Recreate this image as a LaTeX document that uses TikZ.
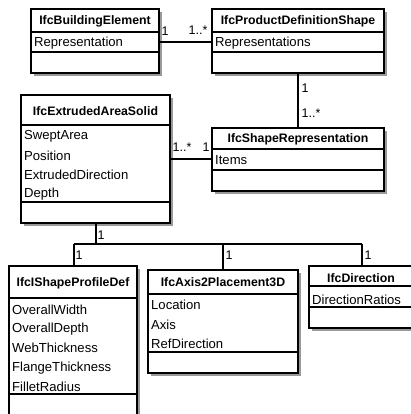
\documentclass[tikz,border=0pt]{standalone}
\usepackage{fontspec}
\setmainfont{Liberation Sans}
\usetikzlibrary{fit}
\tikzset{
  umlbox/.style={draw, line width=1.1pt, inner sep=0pt, outer sep=0pt, fill=white},
  sep/.style={line width=1.1pt},
  conn/.style={line width=1.1pt},
  ttl/.style={font=\bfseries\fontsize{12.3}{13}\selectfont, inner sep=0pt, anchor=center},
  attr/.style={font=\fontsize{13.1}{14}\selectfont, inner sep=0pt, anchor=west},
  mult/.style={font=\fontsize{12.5}{13}\selectfont, inner sep=0pt, anchor=center},
  shadowc/.style={fill=black!40}
}
\newcommand{\umlclass}[8]{%
  \fill[shadowc] (#2+3,#3+3) rectangle (#4+3,#5+3);
  \node[umlbox, fit={(#2,#3)(#4,#5)}] (#1) {};
  \draw[sep] (#2,#6) -- (#4,#6);
  \draw[sep] (#2,#7) -- (#4,#7);
  \node[ttl] (#1-t) at ({(#2+#4)/2},#8) {\phantom{X}};
}
\begin{document}
\begin{tikzpicture}[x=1pt,y=-1pt]
\useasboundingbox (0,0) rectangle (411,414);
\clip (0,0) rectangle (411,414);
\fill[white] (0,0) rectangle (411,414);

% IfcBuildingElement
\umlclass{be}{31}{9}{159}{73}{32}{52}{21}
\node[ttl] at (be-t) {IfcBuildingElement};
\node[attr] (be-a1) at (34,43) {Representation};

% IfcProductDefinitionShape
\umlclass{pds}{212}{9}{384}{73}{32}{52}{21}
\node[ttl] at (pds-t) {IfcProductDefinitionShape};
\node[attr] (pds-a1) at (215,43) {Representations};

% IfcExtrudedAreaSolid
\umlclass{eas}{21}{95}{170}{223}{125}{202}{111}
\node[ttl] at (eas-t) {IfcExtrudedAreaSolid};
\node[attr] at (24,136.5) {SweptArea};
\node[attr] at (24,155.8) {Position};
\node[attr] at (24,175) {ExtrudedDirection};
\node[attr] at (24,194.3) {Depth};

% IfcShapeRepresentation
\umlclass{sr}{212}{128}{384}{191}{149}{170}{139}
\node[ttl] at (sr-t) {IfcShapeRepresentation};
\node[attr] at (215,160) {Items};

% IfcIShapeProfileDef
\umlclass{isp}{9}{266}{137}{418}{298}{394}{283}
\node[ttl] at (isp-t) {IfcIShapeProfileDef};
\node[attr] at (12,309.5) {OverallWidth};
\node[attr] at (12,328.9) {OverallDepth};
\node[attr] at (12,348.3) {WebThickness};
\node[attr] at (12,367.7) {FlangeThickness};
\node[attr] at (12,387.1) {FilletRadius};

% IfcAxis2Placement3D
\umlclass{ax}{148}{270}{298}{373}{294}{352}{282}
\node[ttl] at (ax-t) {IfcAxis2Placement3D};
\node[attr] at (151,305.3) {Location};
\node[attr] at (151,324.6) {Axis};
\node[attr] at (151,343.9) {RefDirection};

% IfcDirection
\umlclass{dir}{309}{266}{416}{328}{286}{307}{277.7}
\node[ttl] at (361,277.7) {IfcDirection};
\node[attr] at (312,300) {DirectionRatios};

% connectors
\draw[conn] (be.east |- 0,42) -- (pds.west |- 0,42);
\node[mult] at (165,31) {1};
\node[mult] at (198,30) {1..*};

\draw[conn] (298,73) coordinate (p1) -- (p1 |- sr.north);
\node[mult] at (305,88) {1};
\node[mult] at (311,113) {1..*};

\draw[conn] (eas.east |- 0,159) -- (sr.west |- 0,159);
\node[mult] at (182,147) {1..*};
\node[mult] at (206,147) {1};

\coordinate (j) at (96,244);
\draw[conn] (eas.south -| j) -- (j);
\draw[conn] (74,244) coordinate (l) -- (362,244) coordinate (r);
\draw[conn] (l) -- (l |- isp.north);
\draw[conn] (223,244) coordinate (m) -- (m |- ax.north);
\draw[conn] (r) -- (r |- dir.north);
\node[mult] at (101,235) {1};
\node[mult] at (79,255) {1};
\node[mult] at (229,255) {1};
\node[mult] at (368,255) {1};
\end{tikzpicture}
\end{document}
